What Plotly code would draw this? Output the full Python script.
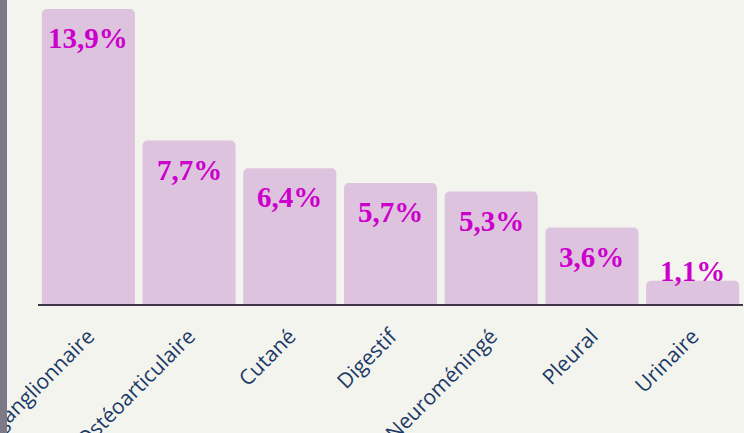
import plotly.graph_objects as go

categories = ["ganglionnaire", "Ostéoarticulaire", "Cutané", "Digestif", "Neuroméningé", "Pleural", "Urinaire"]
values = [13.9, 7.7, 6.4, 5.7, 5.3, 3.6, 1.1]
labels = ["13,9%", "7,7%", "6,4%", "5,7%", "5,3%", "3,6%", "1,1%"]

fig = go.Figure(go.Bar(
    x=categories, y=values,
    marker=dict(color="#dec3de", line=dict(width=0), cornerradius=5),
    hoverinfo="skip",
))

for c, v, t in zip(categories, values, labels):
    inside = v > 2
    fig.add_annotation(x=c, y=v, text="<b>" + t + "</b>", showarrow=False,
                       yshift=-29 if inside else 10, yanchor="middle",
                       font=dict(family="Liberation Serif, Times New Roman, serif", size=29, color="#cc00cc"))

fig.add_shape(type="rect", xref="paper", yref="paper",
              x0=-38/705, x1=-31/705, y0=-129/304, y1=1,
              fillcolor="#7b7a86", line=dict(width=0), layer="above")

fig.update_layout(
    width=744, height=433,
    margin=dict(l=38, r=1, t=0, b=129, autoexpand=False),
    paper_bgcolor="#f4f4ef", plot_bgcolor="#f4f4ef",
    bargap=0.076, showlegend=False,
    xaxis=dict(tickangle=-45, showline=True, linecolor="#3e3446", linewidth=1.5,
               automargin=False, ticklabelstandoff=10, ticklabelshift=0,
               tickfont=dict(family="Open Sans", size=21, color="#1b3a66"),
               ticks="", showgrid=False),
    yaxis=dict(range=[0, 304/21.22], visible=False, showgrid=False, zeroline=False, automargin=False),
)

fig.write_html("out.html")
